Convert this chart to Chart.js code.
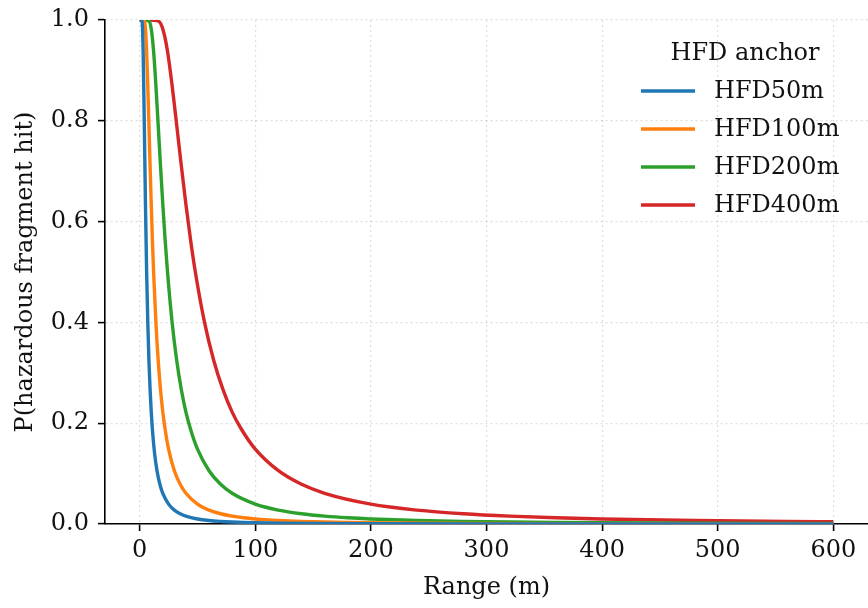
<!DOCTYPE html>
<html>
<head>
<meta charset="utf-8">
<script src="https://cdn.jsdelivr.net/npm/chart.js@4/dist/chart.umd.min.js"></script>
<style>
  html, body { margin: 0; padding: 0; background: #fff; }
  #wrap { width: 868px; height: 608px; }
</style>
</head>
<body>
<div id="wrap"><canvas id="chart" width="868" height="608"></canvas></div>
<script>
// range (m) and hit probability
const blueR = [0, 1, 2, 3, 4, 5, 6, 7, 8, 9, 10, 12, 14, 16, 18, 20, 25, 30, 35, 40, 50, 60, 70, 80, 90, 100, 120, 150, 200, 300, 400, 600];
const blueP = [1, 1, 0.998, 0.938, 0.792, 0.634, 0.502, 0.401, 0.324, 0.267, 0.222, 0.160, 0.120, 0.0934, 0.0745, 0.0608, 0.0394, 0.0275, 0.0203, 0.0156, 0.0100, 0.0069, 0.0051, 0.0039, 0.0031, 0.0025, 0.0017, 0.0011, 0.0006, 0.0003, 0.0002, 0.0001];

const orangeR = [0, 2, 4, 5, 6, 7, 8, 9, 10, 11, 12, 14, 16, 18, 20, 22, 25, 30, 35, 40, 50, 60, 70, 80, 90, 100, 120, 140, 160, 180, 200, 250, 300, 400, 500, 600];
const orangeP = [1, 1, 0.998, 0.982, 0.939, 0.871, 0.792, 0.711, 0.634, 0.564, 0.502, 0.401, 0.325, 0.267, 0.222, 0.188, 0.1485, 0.1057, 0.0787, 0.0609, 0.0394, 0.0275, 0.0203, 0.0156, 0.0123, 0.0100, 0.0070, 0.0051, 0.0039, 0.0031, 0.0025, 0.0016, 0.0011, 0.0006, 0.0004, 0.0003];

const greenR = [0, 4, 8, 10, 12, 14, 16, 18, 20, 22, 24, 28, 32, 36, 40, 44, 50, 60, 70, 80, 100, 120, 140, 160, 180, 200, 240, 280, 320, 360, 400, 500, 600];
const greenP = [1, 1, 0.998, 0.982, 0.939, 0.871, 0.792, 0.711, 0.634, 0.564, 0.502, 0.401, 0.325, 0.267, 0.222, 0.188, 0.1485, 0.1057, 0.0787, 0.0609, 0.0394, 0.0275, 0.0203, 0.0156, 0.0123, 0.0100, 0.0070, 0.0051, 0.0039, 0.0031, 0.0025, 0.0016, 0.0011];

const redR = [0, 8, 16, 20, 24, 28, 32, 36, 40, 44, 48, 56, 64, 72, 80, 88, 100, 120, 140, 160, 200, 240, 280, 320, 360, 400, 480, 560, 600];
const redP = [1, 1, 0.998, 0.982, 0.939, 0.871, 0.792, 0.711, 0.634, 0.564, 0.502, 0.401, 0.325, 0.267, 0.222, 0.188, 0.1485, 0.1057, 0.0787, 0.0609, 0.0394, 0.0275, 0.0203, 0.0156, 0.0123, 0.0100, 0.0070, 0.0051, 0.0045];

const seriesLabels = ['HFD50m', 'HFD100m', 'HFD200m', 'HFD400m'];
const xTicks = [0, 100, 200, 300, 400, 500, 600];
const yTicks = [0, 0.2, 0.4, 0.6, 0.8, 1.0];

const colors = ['#1f77b4', '#ff7f0e', '#2ca02c', '#d62728'];
const FONT = "'DejaVu Serif', serif";
const FSIZE = 24;

const toPoints = (xs, ys) => xs.map((x, i) => ({ x: x, y: ys[i] }));

const datasets = [
    toPoints(blueR, blueP),
    toPoints(orangeR, orangeP),
    toPoints(greenR, greenP),
    toPoints(redR, redP)
].map((pts, i) => ({
    label: seriesLabels[i],
    data: pts,
    borderColor: colors[i],
    borderWidth: 3.4,
    pointRadius: 0,
    fill: false,
    cubicInterpolationMode: 'monotone'
}));

// matplotlib-style legend with a title, top right inside the axes
const legendPlugin = {
    id: 'hfdLegend',
    afterDatasetsDraw(chart) {
        const ctx = chart.ctx;
        ctx.save();
        ctx.font = `${FSIZE}px ${FONT}`;
        ctx.fillStyle = '#111';
        ctx.textBaseline = 'middle';
        ctx.textAlign = 'center';
        ctx.fillText('HFD anchor', 745, 54);
        ctx.textAlign = 'left';
        chart.data.datasets.forEach((ds, i) => {
            const y = 91 + i * 38;
            ctx.strokeStyle = ds.borderColor;
            ctx.lineWidth = 3.4;
            ctx.beginPath();
            ctx.moveTo(641, y);
            ctx.lineTo(695, y);
            ctx.stroke();
            ctx.fillText(ds.label, 714, y + 1);
        });
        ctx.restore();
    }
};

const gridStyle = {
    color: 'rgba(0,0,0,0.13)',
    lineWidth: 1.2,
    tickColor: '#000',
    tickLength: 7,
    tickWidth: 1.6
};

new Chart(document.getElementById('chart'), {
    type: 'line',
    data: { datasets: datasets },
    options: {
        responsive: false,
        animation: false,
        layout: { padding: { top: 20, right: 0, left: 0, bottom: 0 } },
        plugins: {
            legend: { display: false },
            tooltip: { enabled: false }
        },
        scales: {
            x: {
                type: 'linear',
                min: -30,
                max: 630,
                afterBuildTicks: s => { s.ticks = xTicks.map(v => ({ value: v })); },
                afterFit: s => { s.height = 84; s.paddingLeft = 0; s.paddingRight = 0; },
                grid: gridStyle,
                border: { color: '#000', width: 1.6, dash: [2, 3] },
                ticks: {
                    color: '#111',
                    font: { family: FONT, size: FSIZE },
                    padding: 5,
                    maxRotation: 0
                },
                title: {
                    display: true,
                    text: 'Range (m)',
                    color: '#111',
                    font: { family: FONT, size: FSIZE },
                    padding: { top: 0, bottom: 6 }
                }
            },
            y: {
                type: 'linear',
                min: 0,
                max: 1,
                afterBuildTicks: s => { s.ticks = yTicks.map(v => ({ value: v })); },
                afterFit: s => { s.width = 105; s.paddingTop = 0; s.paddingBottom = 0; },
                grid: gridStyle,
                border: { color: '#000', width: 1.6, dash: [2, 3] },
                ticks: {
                    color: '#111',
                    font: { family: FONT, size: FSIZE },
                    padding: 9,
                    callback: v => v.toFixed(1)
                },
                title: {
                    display: true,
                    text: 'P(hazardous fragment hit)',
                    color: '#111',
                    font: { family: FONT, size: FSIZE },
                    padding: { top: 11, bottom: 0 }
                }
            }
        }
    },
    plugins: [legendPlugin]
});
</script>
</body>
</html>
